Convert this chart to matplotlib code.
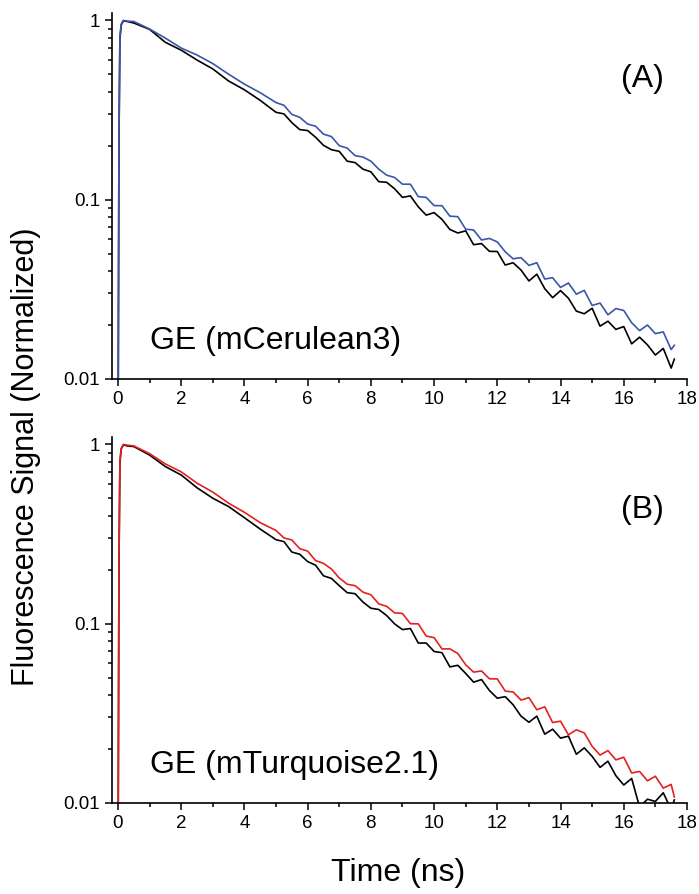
import matplotlib
matplotlib.use('Agg')
import matplotlib.pyplot as plt
from matplotlib.ticker import FixedLocator, NullFormatter

plt.rcParams['font.family'] = ['Liberation Sans', 'DejaVu Sans']

# sample times (ns): rise, then 0.5 ns steps, then 0.25 ns steps in the tail
t = [0.0, 0.03, 0.06, 0.1, 0.17, 0.3,
     0.5, 1.0, 1.5, 2.0, 2.5, 3.0, 3.5, 4.0, 4.5,
     5.0, 5.25, 5.5, 5.75, 6.0, 6.25, 6.5, 6.75,
     7.0, 7.25, 7.5, 7.75, 8.0, 8.25, 8.5, 8.75,
     9.0, 9.25, 9.5, 9.75, 10.0, 10.25, 10.5, 10.75,
     11.0, 11.25, 11.5, 11.75, 12.0, 12.25, 12.5, 12.75,
     13.0, 13.25, 13.5, 13.75, 14.0, 14.25, 14.5, 14.75,
     15.0, 15.25, 15.5, 15.75, 16.0, 16.25, 16.5, 16.75,
     17.0, 17.25, 17.5, 17.6]

# (A) mCerulean3
cer_ge = [0.003, 0.2, 0.8, 0.95, 1.0, 0.99,
          0.986, 0.895, 0.796, 0.701, 0.641, 0.574, 0.501, 0.441, 0.395,
          0.348, 0.336, 0.299, 0.288, 0.264, 0.257, 0.232, 0.225,
          0.200, 0.194, 0.176, 0.173, 0.164, 0.148, 0.137, 0.133,
          0.122, 0.122, 0.104, 0.103, 0.0927, 0.0925, 0.0809, 0.0804,
          0.0684, 0.0678, 0.0596, 0.0608, 0.0581, 0.0512, 0.0468, 0.0475,
          0.0430, 0.0445, 0.0361, 0.0367, 0.0324, 0.0343, 0.0297, 0.0312,
          0.0257, 0.0265, 0.0228, 0.0247, 0.0241, 0.0206, 0.0186, 0.0200,
          0.0179, 0.0183, 0.0146, 0.0154]
cer_ref = [0.003, 0.2, 0.78, 0.94, 0.995, 0.985,
           0.967, 0.891, 0.754, 0.682, 0.601, 0.536, 0.459, 0.410, 0.358,
           0.307, 0.301, 0.269, 0.246, 0.243, 0.223, 0.201, 0.190,
           0.186, 0.164, 0.161, 0.148, 0.143, 0.126, 0.125, 0.115,
           0.103, 0.105, 0.0912, 0.0820, 0.0847, 0.0776, 0.0682, 0.0652,
           0.0670, 0.0561, 0.0569, 0.0515, 0.0514, 0.0432, 0.0445, 0.0405,
           0.0352, 0.0384, 0.0319, 0.0284, 0.0311, 0.0282, 0.0239, 0.0231,
           0.0248, 0.0197, 0.0210, 0.0189, 0.0196, 0.0157, 0.0171, 0.0155,
           0.0136, 0.0148, 0.0115, 0.0129]

# (B) mTurquoise2.1
tq_ge = [0.003, 0.2, 0.8, 0.95, 1.0, 0.99,
         0.981, 0.888, 0.778, 0.703, 0.608, 0.542, 0.470, 0.418, 0.366,
         0.331, 0.301, 0.293, 0.262, 0.254, 0.225, 0.217, 0.202,
         0.180, 0.166, 0.163, 0.150, 0.145, 0.129, 0.125, 0.115,
         0.114, 0.100, 0.0998, 0.0853, 0.0836, 0.0723, 0.0724, 0.0682,
         0.0590, 0.0537, 0.0545, 0.0493, 0.0492, 0.0421, 0.0416, 0.0375,
         0.0387, 0.0331, 0.0344, 0.0281, 0.0286, 0.0240, 0.0256, 0.0246,
         0.0207, 0.0185, 0.0196, 0.0174, 0.0180, 0.0147, 0.0150, 0.0133,
         0.0141, 0.0121, 0.0127, 0.0108]
tq_ref = [0.003, 0.2, 0.78, 0.94, 0.995, 0.98,
          0.973, 0.872, 0.752, 0.675, 0.573, 0.501, 0.450, 0.390, 0.337,
          0.294, 0.287, 0.251, 0.244, 0.222, 0.212, 0.185, 0.179,
          0.163, 0.149, 0.147, 0.132, 0.122, 0.120, 0.111, 0.0998,
          0.0927, 0.0940, 0.0780, 0.0780, 0.0700, 0.0689, 0.0574, 0.0586,
          0.0528, 0.0472, 0.0488, 0.0424, 0.0384, 0.0392, 0.0353, 0.0305,
          0.0282, 0.0305, 0.0242, 0.0258, 0.0230, 0.0236, 0.0187, 0.0203,
          0.0182, 0.0158, 0.0171, 0.0142, 0.0126, 0.0137, 0.0095, 0.0105,
          0.0102, 0.0114, 0.0092, 0.0104]

x_major = [0, 2, 4, 6, 8, 10, 12, 14, 16, 18]
x_minor = [1, 3, 5, 7, 9, 11, 13, 15, 17]
y_major = [0.01, 0.1, 1]
y_labels = ['0.01', '0.1', '1']
y_minor = [0.02, 0.03, 0.04, 0.05, 0.06, 0.07, 0.08, 0.09,
           0.2, 0.3, 0.4, 0.5, 0.6, 0.7, 0.8, 0.9]

fig = plt.figure(figsize=(6.99, 8.94), dpi=100)
ax_a = fig.add_axes([0.1602, 0.5761, 0.8226, 0.4094])
ax_b = fig.add_axes([0.1602, 0.1018, 0.8226, 0.4094])

panels = [
    (ax_a, cer_ref, cer_ge, '#3a56a8', 'GE (mCerulean3)', '(A)', 0.082, 0.797),
    (ax_b, tq_ref, tq_ge, '#e3211e', 'GE (mTurquoise2.1)', '(B)', 0.081, 0.778),
]

for ax, ref, ge, col, name, tag, name_y, tag_y in panels:
    ax.plot(t, ref, color='black', lw=1.2)
    ax.plot(t, ge, color=col, lw=1.2)
    ax.set_yscale('log')
    ax.set_xlim(-0.19, 18)
    ax.set_ylim(0.01, 1.1)

    ax.set_xticks(x_major)
    ax.set_xticks(x_minor, minor=True)
    ax.set_yticks(y_major)
    ax.set_yticklabels(y_labels)
    ax.yaxis.set_minor_locator(FixedLocator(y_minor))
    ax.yaxis.set_minor_formatter(NullFormatter())

    ax.tick_params(which='major', direction='out', length=5, width=1.1,
                   labelsize=13.5, pad=3.5)
    ax.tick_params(which='minor', direction='out', length=3, width=1.1)
    for side in ['top', 'right']:
        ax.spines[side].set_visible(False)
    for side in ['left', 'bottom']:
        ax.spines[side].set_linewidth(1.2)

    ax.text(0.066, name_y, name, transform=ax.transAxes, fontsize=23,
            ha='left', va='baseline')
    ax.text(0.9226, tag_y, tag, transform=ax.transAxes, fontsize=23,
            ha='center', va='baseline')

fig.text(0.037, 0.489, 'Fluorescence Signal (Normalized)', rotation=90,
         fontsize=22, ha='center', va='center')
fig.text(0.569, 0.0145, 'Time (ns)', fontsize=23, ha='center', va='baseline')

fig.savefig('out.png', dpi=100)
